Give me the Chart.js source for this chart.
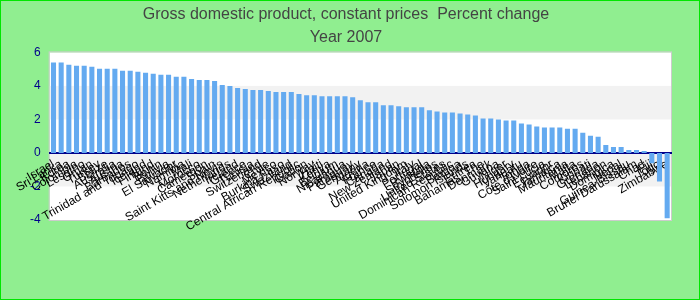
<!DOCTYPE html>
<html>
<head>
<meta charset="utf-8">
<script src="https://cdn.jsdelivr.net/npm/chart.js@4/dist/chart.umd.min.js"></script>
<style>
  html, body { margin: 0; padding: 0; background: #90EE90; }
  #wrap { width: 700px; height: 300px; box-sizing: border-box; border: 1px solid #00e600; position: relative; }
  canvas { display: block; }
</style>
</head>
<body>
<div id="wrap"><canvas id="c"></canvas></div>
<script>
const chartTitle = ['Gross domestic product, constant prices  Percent change', 'Year 2007'];

const countries = [
  'Israel', 'Sri Lanka', 'Korea', 'Colombia', 'Lesotho', 'Oman', 'Turkey', 'Belize', 'Australia', 'Austria',
  'Barbados', 'Trinidad and Tobago', 'Iceland', 'Finland', 'Benin', 'Bolivia', 'El Salvador', 'Namibia', 'Mali', 'Morocco',
  'Cameroon', 'Spain', 'Saint Kitts and Nevis', 'Netherlands', 'Ireland', 'Greece', 'Tunisia', 'Switzerland', 'Chile', 'Mexico',
  'Burkina Faso', 'Swaziland', 'Central African Republic', 'Gabon', 'Norway', 'Haiti', 'Kenya', 'Belgium', 'Nicaragua', 'Paraguay',
  'Germany', 'Algeria', 'France', 'Canada', 'New Zealand', 'Japan', 'United Kingdom', 'Italy', 'Portugal', 'Rwanda',
  'Seychelles', 'United States', 'Dominican Republic', 'Samoa', 'Solomon Islands', 'Eritrea', 'Bahamas, The', 'Denmark', 'Guyana', 'Niger',
  'Hungary', 'Vanuatu', 'Tonga', "Côte d'Ivoire", 'Saint Lucia', 'Ecuador', 'Jamaica', 'Mauritania', 'Malta', 'Comoros',
  'Kiribati', 'Grenada', 'Lebanon', 'Dominica', 'Nepal', 'Guinea-Bissau', 'Brunei Darussalam', 'Chad', 'Fiji', 'Togo',
  'Zimbabwe'
];

const growth = [
  5.39, 5.39, 5.27, 5.21, 5.21, 5.15, 5.03, 5.03, 5.03, 4.91,
  4.91, 4.85, 4.79, 4.73, 4.67, 4.67, 4.55, 4.55, 4.42, 4.36,
  4.36, 4.30, 4.06, 4.00, 3.88, 3.82, 3.76, 3.76, 3.70, 3.64,
  3.64, 3.64, 3.52, 3.45, 3.45, 3.39, 3.39, 3.39, 3.39, 3.33,
  3.15, 3.03, 3.03, 2.85, 2.85, 2.79, 2.73, 2.73, 2.73, 2.55,
  2.48, 2.42, 2.42, 2.36, 2.30, 2.24, 2.06, 2.06, 2.00, 1.94,
  1.94, 1.76, 1.70, 1.58, 1.52, 1.52, 1.52, 1.45, 1.45, 1.21,
  1.03, 0.97, 0.48, 0.36, 0.36, 0.18, 0.18, 0.12, -0.61, -1.70,
  -3.90
];

const yTicks = [-4, -2, 0, 2, 4, 6];
const shadedBands = [[2, 4], [-2, 0]];

const plotBg = {
  id: 'plotBg',
  beforeDraw(chart) {
    const { ctx, chartArea: a, scales } = chart;
    ctx.save();
    ctx.fillStyle = '#90EE90';
    ctx.fillRect(0, 0, chart.width, chart.height);
    ctx.fillStyle = '#ffffff';
    ctx.fillRect(a.left, a.top, a.right - a.left, a.bottom - a.top);
    ctx.fillStyle = '#f2f2f2';
    shadedBands.forEach(([lo, hi]) => {
      const y1 = scales.y.getPixelForValue(hi);
      const y2 = scales.y.getPixelForValue(lo);
      ctx.fillRect(a.left, y1, a.right - a.left, y2 - y1);
    });
    ctx.strokeStyle = '#cccccc';
    ctx.lineWidth = 1;
    ctx.strokeRect(a.left - 0.5, a.top - 0.5, a.right - a.left + 1, a.bottom - a.top + 1);
    ctx.restore();
  }
};

new Chart(document.getElementById('c'), {
  type: 'bar',
  data: {
    labels: countries,
    datasets: [{
      data: growth,
      backgroundColor: '#64aaf0',
      borderWidth: 0,
      barPercentage: 0.66,
      categoryPercentage: 1.0
    }]
  },
  options: {
    responsive: true,
    maintainAspectRatio: false,
    animation: false,
    layout: { padding: { left: 20, right: 28, top: 0, bottom: 79 } },
    plugins: {
      legend: { display: false },
      tooltip: { enabled: false },
      title: {
        display: true,
        text: chartTitle,
        color: '#444444',
        font: { family: 'Liberation Sans, Arial, sans-serif', size: 16, weight: 'normal', lineHeight: 1.45 },
        padding: { top: 2, bottom: 3 }
      }
    },
    scales: {
      x: {
        position: { y: 0 },
        grid: { display: false, drawTicks: false },
        border: { display: true, color: '#00008b', width: 2 },
        ticks: {
          autoSkip: false,
          minRotation: 30,
          maxRotation: 30,
          padding: 4,
          color: '#000000',
          font: { family: 'Liberation Sans, Arial, sans-serif', size: 12 }
        }
      },
      y: {
        min: -4,
        max: 6,
        afterBuildTicks(scale) { scale.ticks = yTicks.map(v => ({ value: v })); },
        grid: { display: false, drawTicks: false },
        border: { display: false },
        ticks: {
          padding: 9,
          color: '#00008b',
          font: { family: 'Liberation Sans, Arial, sans-serif', size: 12 }
        }
      }
    }
  },
  plugins: [plotBg]
});
</script>
</body>
</html>
